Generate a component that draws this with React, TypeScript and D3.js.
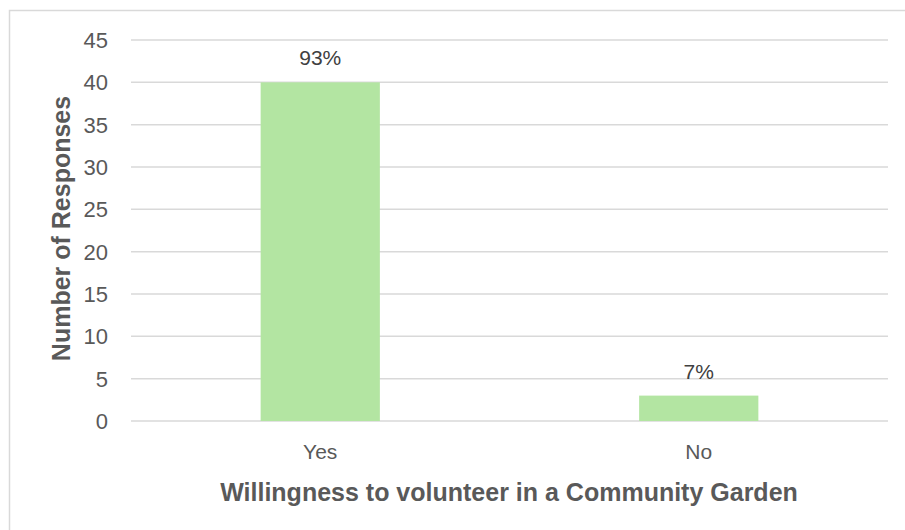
import React from "react";
import * as d3 from "d3";

const categories = ["Yes", "No"];
const responses = [40, 3];
const percentLabels = ["93%", "7%"];
const yTicks = [0, 5, 10, 15, 20, 25, 30, 35, 40, 45];
const xTitle = "Willingness to volunteer in a Community Garden";
const yTitle = "Number of Responses";

const W = 905;
const H = 530;
const margin = { left: 131, right: 17, top: 40, bottom: 109 };
const FONT = "'Liberation Sans', Arial, sans-serif";
const TEXT = "#595959";

export default function App() {
  const x = d3
    .scaleBand<string>()
    .domain(categories)
    .range([margin.left, W - margin.right])
    .paddingInner(0.685)
    .paddingOuter(0.3425);
  const y = d3.scaleLinear().domain([0, 45]).range([H - margin.bottom, margin.top]);

  return (
    <svg
      width={W}
      height={H}
      style={{ position: "absolute", left: 0, top: 0, background: "#fff" }}
      fontFamily={FONT}
    >
      <rect x={9.5} y={10.5} width={W + 20} height={H + 20} fill="#fff" stroke="#D9D9D9" strokeWidth={1.5} />
      {yTicks.map((t) => (
        <g key={t}>
          <line x1={margin.left} x2={W - margin.right} y1={y(t)} y2={y(t)} stroke="#D9D9D9" strokeWidth={1.5} />
          <text x={108} y={y(t)} dy="0.36em" textAnchor="end" fontSize={22} fill={TEXT}>
            {t}
          </text>
        </g>
      ))}
      {categories.map((c, i) => (
        <g key={c}>
          <rect
            x={x(c)!}
            y={y(responses[i])}
            width={x.bandwidth()}
            height={y(0) - y(responses[i])}
            fill="#B3E5A2"
          />
          <text
            x={x(c)! + x.bandwidth() / 2}
            y={y(responses[i]) - 17}
            textAnchor="middle"
            fontSize={21}
            fill="#404040"
          >
            {percentLabels[i]}
          </text>
          <text
            x={x(c)! + x.bandwidth() / 2}
            y={459}
            textAnchor="middle"
            fontSize={21}
            fill={TEXT}
          >
            {c}
          </text>
        </g>
      ))}
      <text x={509} y={501} textAnchor="middle" fontSize={25} fontWeight="bold" fill={TEXT}>
        {xTitle}
      </text>
      <text
        transform={`translate(70, ${228.5}) rotate(-90)`}
        textAnchor="middle"
        fontSize={25}
        fontWeight="bold"
        fill={TEXT}
      >
        {yTitle}
      </text>
    </svg>
  );
}
